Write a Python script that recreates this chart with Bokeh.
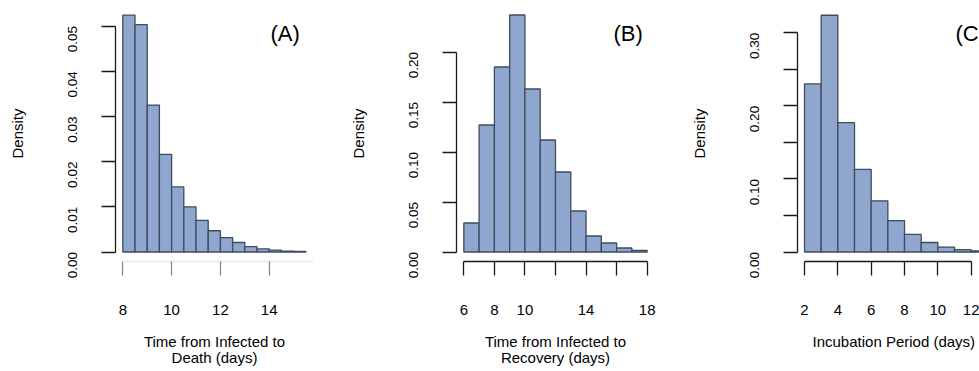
from bokeh.plotting import figure
from bokeh.layouts import row
from bokeh.models import FixedTicker, Label, Range1d, Title
from bokeh.embed import file_html
from bokeh.resources import INLINE

# ---------------- data ----------------
# (A) Time from Infected to Death (days): bins of 0.5 from 8 to 15.5
death_edges = [8.0, 8.5, 9.0, 9.5, 10.0, 10.5, 11.0, 11.5, 12.0, 12.5,
               13.0, 13.5, 14.0, 14.5, 15.0, 15.5]
death_density = [0.0524, 0.0503, 0.0325, 0.0216, 0.0144, 0.0100, 0.0070,
                 0.0047, 0.0032, 0.0021, 0.0012, 0.0007, 0.0004, 0.0002, 0.00015]

# (B) Time from Infected to Recovery (days): bins of 1 from 6 to 18
recovery_edges = [6, 7, 8, 9, 10, 11, 12, 13, 14, 15, 16, 17, 18]
recovery_density = [0.029, 0.127, 0.185, 0.237, 0.163, 0.112, 0.080,
                    0.041, 0.016, 0.009, 0.004, 0.0017]

# (C) Incubation Period (days): bins of 1 from 2 to 13
incubation_edges = [2, 3, 4, 5, 6, 7, 8, 9, 10, 11, 12, 13]
incubation_density = [0.230, 0.324, 0.177, 0.113, 0.070, 0.043, 0.024,
                      0.013, 0.0068, 0.0032, 0.0014]

# tick values and labels
death_xticks = [8, 10, 12, 14]
death_xlabels = ["8", "10", "12", "14"]
death_yticks = [0.0, 0.01, 0.02, 0.03, 0.04, 0.05]
death_ylabels = ["0.00", "0.01", "0.02", "0.03", "0.04", "0.05"]

recovery_xticks = [6, 8, 10, 12, 14, 16, 18]
recovery_xlabels = ["6", "8", "10", "", "14", "", "18"]
recovery_yticks = [0.0, 0.05, 0.1, 0.15, 0.2]
recovery_ylabels = ["0.00", "0.05", "0.10", "0.15", "0.20"]

incubation_xticks = [2, 4, 6, 8, 10, 12]
incubation_xlabels = ["2", "4", "6", "8", "10", "12"]
incubation_yticks = [0.0, 0.05, 0.1, 0.15, 0.2, 0.25, 0.3]
incubation_ylabels = ["0.00", "", "0.10", "", "0.20", "", "0.30"]

panel_tags = ["(A)", "(B)", "(C)"]
x_titles = ["Time from Infected to\nDeath (days)",
            "Time from Infected to\nRecovery (days)",
            "Incubation Period (days)"]

# ---------------- styling / layout ----------------
FONT = "Liberation Sans"
FILL = "#8FA6CE"
EDGE = "#3E4C5E"
AXIS = "#1a1a1a"

FIG_H = 371
TOP = 5            # frame top (px from figure top)
FRAME_H = 256
Y0_PX = 246.5      # distance from frame top to the y=0 line
BOTTOM_PX = FRAME_H - Y0_PX


def panel(edges, dens, xr, fig_w, left_border, frame_w, ppu_y,
          xticks, xlabels, yticks, ylabels, xbounds, ybounds,
          tag, tag_px, title_text, title_mode, title_offset, xaxis_style="normal"):
    y_start = -BOTTOM_PX / ppu_y
    y_end = Y0_PX / ppu_y
    p = figure(width=fig_w, height=FIG_H, output_backend="svg",
               toolbar_location=None, x_range=Range1d(*xr),
               y_range=Range1d(y_start, y_end),
               min_border_left=left_border,
               min_border_right=fig_w - left_border - frame_w,
               min_border_top=TOP, min_border_bottom=FIG_H - FRAME_H - TOP)
    p.outline_line_color = None
    p.grid.visible = False
    p.background_fill_color = "white"
    p.border_fill_color = "white"

    p.quad(left=edges[:-1], right=edges[1:], bottom=0, top=dens,
           fill_color=FILL, line_color=EDGE, line_width=1.3)

    # y axis
    ya = p.yaxis[0]
    ya.ticker = FixedTicker(ticks=yticks)
    ya.major_label_overrides = {t: s for t, s in zip(yticks, ylabels)}
    ya.bounds = ybounds
    ya.minor_tick_line_color = None
    ya.major_tick_in = 0
    ya.major_tick_out = 14
    ya.major_tick_line_color = AXIS
    ya.major_tick_line_width = 1.3
    ya.axis_line_color = AXIS
    ya.axis_line_width = 1.3
    ya.major_label_orientation = 3.14159265 / 2
    ya.major_label_text_font = FONT
    ya.major_label_text_font_size = "13.5px"
    ya.major_label_text_color = "black"
    ya.major_label_standoff = 29
    ya.axis_label = "Density"
    ya.axis_label_text_font = FONT
    ya.axis_label_text_font_size = "15px"
    ya.axis_label_text_font_style = "normal"
    ya.axis_label_text_color = "black"
    ya.axis_label_standoff = 35

    # x axis
    xa = p.xaxis[0]
    xa.ticker = FixedTicker(ticks=xticks)
    xa.major_label_overrides = {t: s for t, s in zip(xticks, xlabels)}
    xa.bounds = xbounds
    xa.minor_tick_line_color = None
    xa.major_tick_in = 0
    xa.major_tick_out = 14
    xa.major_label_text_font = FONT
    xa.major_label_text_font_size = "15px"
    xa.major_label_text_color = "black"
    xa.major_label_standoff = 29
    if xaxis_style == "faint":
        xa.axis_line_color = "#e8e8e8"
        xa.axis_line_width = 1.5
        xa.major_tick_line_color = "#8a8a8a"
        xa.major_tick_line_width = 1.3
    else:
        xa.axis_line_color = AXIS
        xa.axis_line_width = 1.3
        xa.major_tick_line_color = AXIS
        xa.major_tick_line_width = 1.3

    # panel tag, placed from pixel offsets inside the frame
    ppu_x = frame_w / (xr[1] - xr[0])
    tx = xr[0] + tag_px[0] / ppu_x
    ty = (Y0_PX - tag_px[1]) / ppu_y
    p.add_layout(Label(x=tx, y=ty, text=tag, text_font=FONT,
                       text_font_size="22px", text_baseline="middle",
                       text_align="left", text_color="black"))

    # x title below the axis
    if title_mode == "axis":
        xa.axis_label = title_text
        xa.axis_label_text_font = FONT
        xa.axis_label_text_font_size = "15px"
        xa.axis_label_text_font_style = "normal"
        xa.axis_label_text_color = "black"
        xa.axis_label_text_align = "center"
        xa.axis_label_text_line_height = 0.95
        xa.axis_label_standoff = 15
    else:
        t = Title(text=title_text, align="left", offset=title_offset,
                  text_font=FONT, text_font_size="15px",
                  text_font_style="normal", text_color="black", standoff=27)
        p.add_layout(t, "below")
    return p


pa = panel(death_edges, death_density, (7.7, 15.815), 330, 115, 198, 4520.0,
           death_xticks, death_xlabels, death_yticks, death_ylabels,
           (8, 15.815), (0, 0.05), panel_tags[0], (155, 28),
           x_titles[0], "axis", 0, xaxis_style="faint")
pb = panel(recovery_edges, recovery_density, (5.52, 18.48), 330, 126, 198, 1000.0,
           recovery_xticks, recovery_xlabels, recovery_yticks, recovery_ylabels,
           (6, 18), (0, 0.2), panel_tags[1], (157, 28),
           x_titles[1], "axis", 0)
pc = panel(incubation_edges, incubation_density, (1.58, 12.498), 319, 137, 182, 730.7,
           incubation_xticks, incubation_xlabels, incubation_yticks, incubation_ylabels,
           (2, 12), (0, 0.3), panel_tags[2], (158, 28),
           x_titles[2], "title", 15)

layout = row(pa, pb, pc)
open("out.html", "w").write(file_html(layout, INLINE))
